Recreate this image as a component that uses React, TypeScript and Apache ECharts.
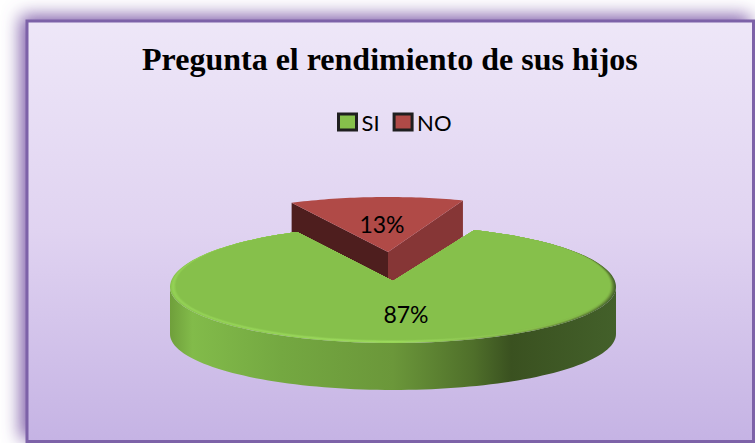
import React, { useEffect, useRef } from "react";
import * as echarts from "echarts";

const titleText = "Pregunta el rendimiento de sus hijos";
const categories = ["SI", "NO"];
const values = [87, 13];
const labels = ["87%", "13%"];

const FONT = "Lato";
const ELL = { cx: 393, cy: 287, rx: 223, ryBack: 61, ryFront: 56, depth: 47, apexX: 393, apexY: 281 };
const EXP = { cx: 388, cy: 252, rx: 216, ry: 55, depth: 33 };
const NO_START = 115.5; // degrees, counter-clockwise from +x, where the NO wedge begins
const EXP_START = 116.5;

const rad = (d: number) => (d * Math.PI) / 180;
const total = values.reduce((a, b) => a + b, 0);
const noSweep = (values[1] / total) * 360;

function ellipsePoint(deg: number, inset = 0): number[] {
  const c = Math.cos(rad(deg));
  const s = Math.sin(rad(deg));
  const front = s < 0;
  const ry = front ? ELL.ryFront : ELL.ryBack;
  const k = front ? 1 : 1 - Math.abs(s);
  return [ELL.cx + (ELL.rx - inset * k) * c, ELL.cy - (ry - (front ? inset * 0.55 : 0)) * s];
}

function siTopPoints(inset: number): number[][] {
  const pts: number[][] = [[ELL.apexX, ELL.apexY]];
  const sweep = 360 - noSweep;
  for (let i = 0; i <= 180; i++) pts.push(ellipsePoint(NO_START + (sweep * i) / 180, inset));
  return pts;
}

function siSidePoints(): number[][] {
  const pts: number[][] = [];
  for (let a = 180; a <= 360; a += 2) pts.push(ellipsePoint(a));
  for (let a = 360; a >= 180; a -= 2) {
    const p = ellipsePoint(a);
    pts.push([p[0], p[1] + ELL.depth]);
  }
  return pts;
}

const h = (stops: [number, string][]) => ({
  type: "linear", x: 0, y: 0, x2: 1, y2: 0,
  colorStops: stops.map(([offset, color]) => ({ offset, color })),
});

const rimLayers: [number, any][] = [
  [0, h([[0, "#86c24c"], [0.5, "#93d056"], [0.82, "#6f9c3e"], [1, "#45632a"]])],
  [1, h([[0, "#8dca50"], [0.5, "#9bd95b"], [0.85, "#769f41"], [1, "#4f7030"]])],
  [2, h([[0, "#92cf54"], [0.5, "#9edc5d"], [0.88, "#7fae45"], [1, "#5c8034"]])],
  [3, h([[0, "#93d055"], [0.5, "#98d55a"], [0.9, "#84b848"], [1, "#6b9339"]])],
  [4, h([[0, "#8fcb52"], [0.5, "#90cc54"], [0.93, "#85bc4a"], [1, "#78a842"]])],
  [5, h([[0, "#8ac64e"], [0.5, "#8ac54e"], [1, "#82b849"]])],
];

function renderSI() {
  return {
    type: "group",
    children: [
      {
        type: "polygon",
        shape: { points: siSidePoints() },
        style: {
          fill: h([
            [0, "#6f9f3b"], [0.05, "#82bb4a"], [0.25, "#74a841"], [0.5, "#6b973a"],
            [0.68, "#4f6f2a"], [0.765, "#3a5120"], [1, "#43602a"],
          ]),
        },
      },
      ...rimLayers.map(([inset, fill]) => ({
        type: "polygon",
        shape: { points: siTopPoints(inset) },
        style: { fill },
      })),
      {
        type: "polygon",
        shape: { points: siTopPoints(6) },
        style: { fill: "#86c04b" },
      },
      {
        type: "text",
        style: {
          x: 406, y: 314, text: labels[0], fill: "#000", font: `23px ${FONT}`,
          align: "center", verticalAlign: "middle",
        },
      },
    ],
  };
}

function renderNO() {
  const p = (deg: number) => [EXP.cx + EXP.rx * Math.cos(rad(deg)), EXP.cy - EXP.ry * Math.sin(rad(deg))];
  const a = p(EXP_START);
  const b = p(EXP_START - noSweep);
  const arc: number[][] = [];
  for (let i = 0; i <= 40; i++) arc.push(p(EXP_START - (noSweep * i) / 40));
  return {
    type: "group",
    children: [
      {
        type: "polygon",
        shape: { points: [[EXP.cx, EXP.cy], b, [b[0], b[1] + EXP.depth + 3], [EXP.cx, EXP.cy + EXP.depth + 5]] },
        style: { fill: "#863636" },
      },
      {
        type: "polygon",
        shape: { points: [a, [EXP.cx, EXP.cy], [EXP.cx, EXP.cy + EXP.depth], [a[0], a[1] + EXP.depth]] },
        style: { fill: "#4e1e1e" },
      },
      {
        type: "polygon",
        shape: { points: [[EXP.cx, EXP.cy], ...arc] },
        style: { fill: "#b04a47" },
      },
      {
        type: "text",
        style: {
          x: 382, y: 224, text: labels[1], fill: "#000", font: `23px ${FONT}`,
          align: "center", verticalAlign: "middle",
        },
      },
    ],
  };
}

export default function App() {
  const ref = useRef<HTMLDivElement>(null);
  useEffect(() => {
    document.body.style.margin = "0";
    const chart = echarts.init(ref.current!, undefined, { renderer: "svg" });
    chart.setOption({
      animation: false,
      backgroundColor: "#ffffff",
      title: {
        text: titleText,
        left: 137,
        top: 38,
        textStyle: { fontFamily: "Liberation Serif", fontWeight: "bold", fontSize: 32, color: "#000" },
      },
      legend: {
        data: [
          { name: categories[0], itemStyle: { color: "#86c04b", borderColor: "#1f1f1f", borderWidth: 3 } },
          { name: categories[1], itemStyle: { color: "#b04a47", borderColor: "#1f1f1f", borderWidth: 3 } },
        ],
        left: 332,
        top: 106,
        icon: "rect",
        itemWidth: 18,
        itemHeight: 16,
        itemGap: 13,
        textStyle: { fontFamily: FONT, fontSize: 22, color: "#000" },
      },
      graphic: [
        {
          type: "rect",
          z: -10,
          shape: { x: 27, y: 21, width: 726.5, height: 420.5 },
          style: {
            fill: {
              type: "linear", x: 0, y: 0, x2: 0, y2: 1,
              colorStops: [
                { offset: 0, color: "#eee7f8" },
                { offset: 0.5, color: "#e0d3f1" },
                { offset: 1, color: "#c5b3e4" },
              ],
            },
            stroke: "#7d62a8",
            lineWidth: 3,
            shadowBlur: 18,
            shadowColor: "#7e5ca8",
            shadowOffsetX: -5,
            shadowOffsetY: -4,
          },
        },
      ],
      series: [
        {
          name: categories[1],
          type: "custom",
          coordinateSystem: "none",
          itemStyle: { color: "#b04a47" },
          data: [values[1]],
          renderItem: renderNO,
          z: 2,
        },
        {
          name: categories[0],
          type: "custom",
          coordinateSystem: "none",
          itemStyle: { color: "#86c04b" },
          data: [values[0]],
          renderItem: renderSI,
          z: 3,
        },
      ],
    });
    return () => chart.dispose();
  }, []);
  return <div ref={ref} style={{ position: "fixed", left: 0, top: 0, width: 755, height: 443 }} />;
}
